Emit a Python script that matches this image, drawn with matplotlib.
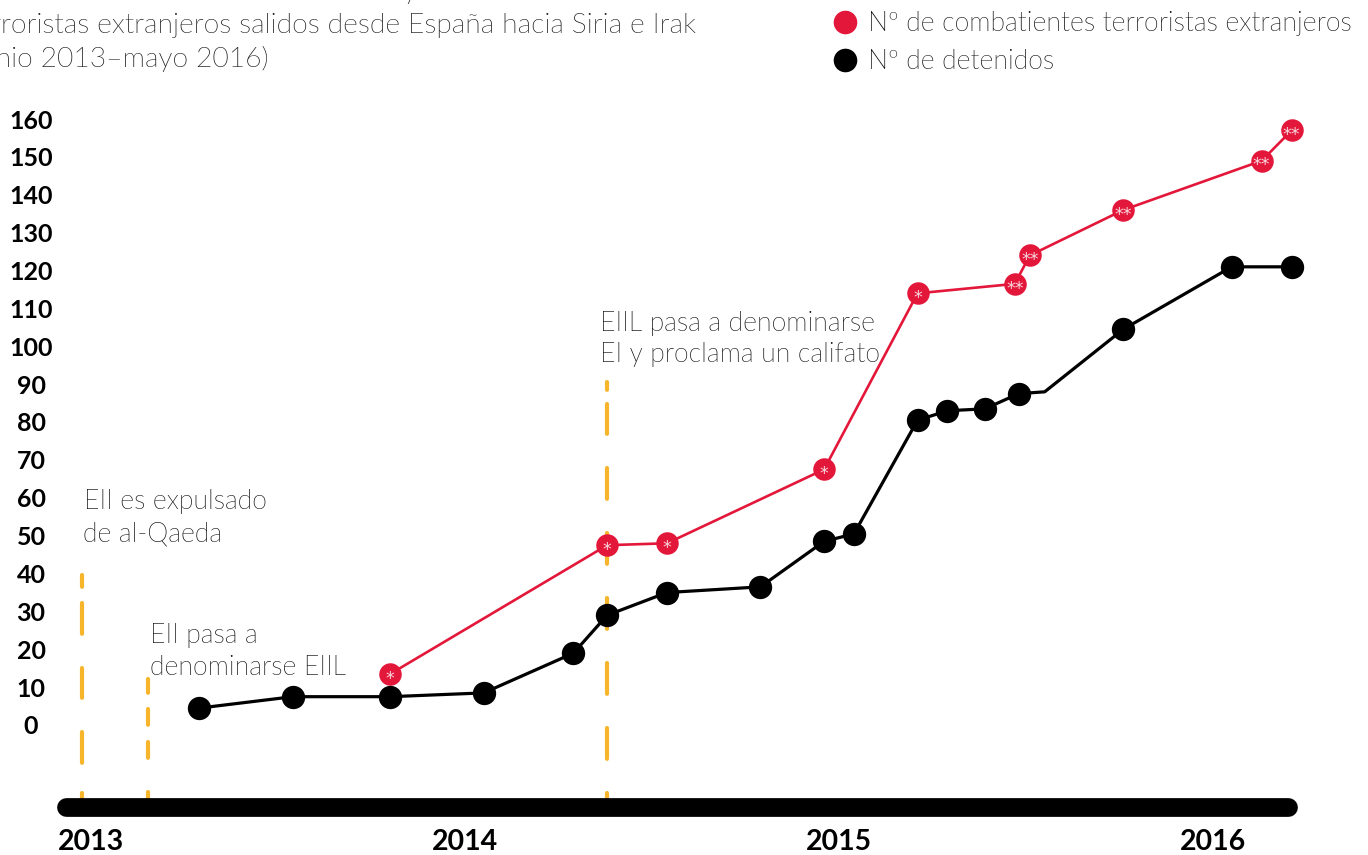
import matplotlib
matplotlib.use("Agg")
import matplotlib.pyplot as plt
import matplotlib.transforms as mtransforms
from matplotlib import font_manager as fm

plt.rcParams['font.family'] = ['Lato', 'DejaVu Sans']
plt.rcParams['lines.scale_dashes'] = False

# ---- data -------------------------------------------------------------
# dates as decimal years
fechas_detenidos = [2013.29, 2013.54, 2013.80, 2014.05, 2014.29, 2014.38,
                    2014.54, 2014.79, 2014.96, 2015.04, 2015.21, 2015.29,
                    2015.39, 2015.48, 2015.55, 2015.76, 2016.05, 2016.21]
detenidos = [5, 8, 8, 9, 19.5, 29.5, 35.5, 37, 49, 51, 81, 83.5, 84, 88,
             88.5, 105, 121.5, 121.5]
# one vertex of the series carries no dot
detenidos_con_punto = [True] * 14 + [False] + [True] * 3

fechas_combatientes = [2013.80, 2014.38, 2014.54, 2014.96, 2015.21,
                       2015.47, 2015.51, 2015.76, 2016.13, 2016.21]
combatientes = [14, 48, 48.5, 68, 114.5, 117, 124.5, 136.5, 149.5, 157.5]
notas_combatientes = ['*', '*', '*', '*', '*', '**', '**', '**', '**', '**']

eventos_fecha = [2012.976, 2013.152, 2014.38]
eventos_texto = [['EII es expulsado', 'de al-Qaeda'],
                 ['EII pasa a', 'denominarse EIIL'],
                 ['EIIL pasa a denominarse', 'EI y proclama un califato']]

anios = [2013, 2014, 2015, 2016]
valores_eje = list(range(0, 161, 10))

titulo = ['Evolución del número de detenidos y de combatientes',
          'terroristas extranjeros salidos desde España hacia Siria e Irak',
          '(junio 2013–mayo 2016)']
leyenda = ['Nº de combatientes terroristas extranjeros', 'Nº de detenidos']

# ---- style ------------------------------------------------------------
ROJO = '#e3173a'
NEGRO = '#000000'
NARANJA = '#f7b52c'
TEXTO = '#0a0a0a'


def fuente_ligera(size):
    """Lato Light when available, regular Lato otherwise."""
    for f in fm.fontManager.ttflist:
        fn = f.fname.lower()
        if 'lato' in fn and 'light' in fn and 'italic' not in fn:
            return fm.FontProperties(fname=f.fname, size=size)
    return fm.FontProperties(family='Lato', weight='normal', size=size)


W, H = 1368, 855
fig = plt.figure(figsize=(W / 100, H / 100), dpi=100)
ax = fig.add_axes([0, 0, 1, 1])
ax.set_xlim(2012.7567, 2016.4144)
ax.set_ylim(-33.8, 191.95)
ax.axis('off')

# pixel transform measured from the top-left corner
pix = mtransforms.Affine2D().scale(1, -1).translate(0, H)

# event markers: dashed vertical lines (dash lengths given in pixels)
LW_EV = 3.0


def patron(segmentos):
    out = []
    for i, s in enumerate(segmentos):
        if i % 2 == 0:
            out.append(max(s * 0.72 - LW_EV, 0.1))
        else:
            out.append(s * 0.72 + LW_EV)
    return (0, tuple(out))


alto_eventos = [40.2, 12.6, 91.2]
patrones_eventos = [patron([16, 12, 35, 30, 34, 30, 35, 26, 40, 30]),
                    patron([18, 12, 20, 13, 20, 30, 20, 30]),
                    patron([12, 10, 34, 30, 35, 30, 35, 30, 35, 30, 35, 30,
                            35, 30, 35, 30])]
for fx, top, ls in zip(eventos_fecha, alto_eventos, patrones_eventos):
    ax.plot([fx, fx], [top, -22], color=NARANJA, lw=LW_EV, ls=ls,
            dash_capstyle='round', zorder=1)

# time axis bar
ax.plot([2012.933, 2016.200], [-21.1, -21.1], color=NEGRO, lw=13.5,
        solid_capstyle='round', zorder=5)
for a in anios:
    ax.text(a, -30.3, str(a), ha='center', va='center', fontsize=20.5,
            fontweight='bold', color=NEGRO)

# value labels on the left
for v in valores_eje:
    ax.text(2012.8397, v, str(v), ha='center', va='center', fontsize=18,
            fontweight='bold', color=NEGRO)

# detained series
ax.plot(fechas_detenidos, detenidos, color=NEGRO, lw=2.3, zorder=3)
ax.plot([f for f, m in zip(fechas_detenidos, detenidos_con_punto) if m],
        [d for d, m in zip(detenidos, detenidos_con_punto) if m],
        'o', color=NEGRO, ms=16.8, mec='none', zorder=4)

# foreign fighters series, with footnote asterisks inside the dots
ax.plot(fechas_combatientes, combatientes, color=ROJO, lw=1.9, zorder=3)
ax.plot(fechas_combatientes, combatientes, 'o', color=ROJO, ms=16.2,
        mec='none', zorder=4)
nota_tr = mtransforms.offset_copy(ax.transData, fig=fig, x=0, y=-7.0,
                                  units='points')
for f, c, n in zip(fechas_combatientes, combatientes, notas_combatientes):
    ax.text(f, c, n, transform=nota_tr, ha='center', va='baseline',
            fontsize=12.5, family='DejaVu Sans', color='#f8d8de', zorder=6)

# event annotations
fp_txt = fuente_ligera(19.2)
pos_eventos = [[(84, 509), (83, 541)], [(150, 643), (150, 675)],
               [(600, 331), (600, 362)]]
for posiciones, lineas in zip(pos_eventos, eventos_texto):
    for (x, y), t in zip(posiciones, lineas):
        fig.text(x, y, t, transform=pix, ha='left', va='baseline',
                 fontproperties=fp_txt, color=TEXTO)

# title, running off the top-left corner of the canvas
fp_tit = fuente_ligera(20.3)
renderer = fig.canvas.get_renderer()
probe = fig.text(0, 0, 'ter', fontproperties=fp_tit)
ancho_ter = probe.get_window_extent(renderer).width
probe.remove()
x_tit = 1 - ancho_ter
for i, linea in enumerate(titulo):
    fig.text(x_tit, -1 + 34 * i, linea, transform=pix, ha='left',
             va='baseline', fontproperties=fp_tit, color='#141414')

# legend
for i, (txt, col) in enumerate(zip(leyenda, [ROJO, NEGRO])):
    y = 22 + 38 * i
    fig.lines.append(plt.Line2D([845], [H - y], marker='o', ms=17,
                                color=col, mec='none', transform=None))
    fig.text(868, y + 1, txt, transform=pix, ha='left', va='center',
             fontproperties=fp_txt, color=TEXTO)

fig.savefig('out.png', dpi=100)
